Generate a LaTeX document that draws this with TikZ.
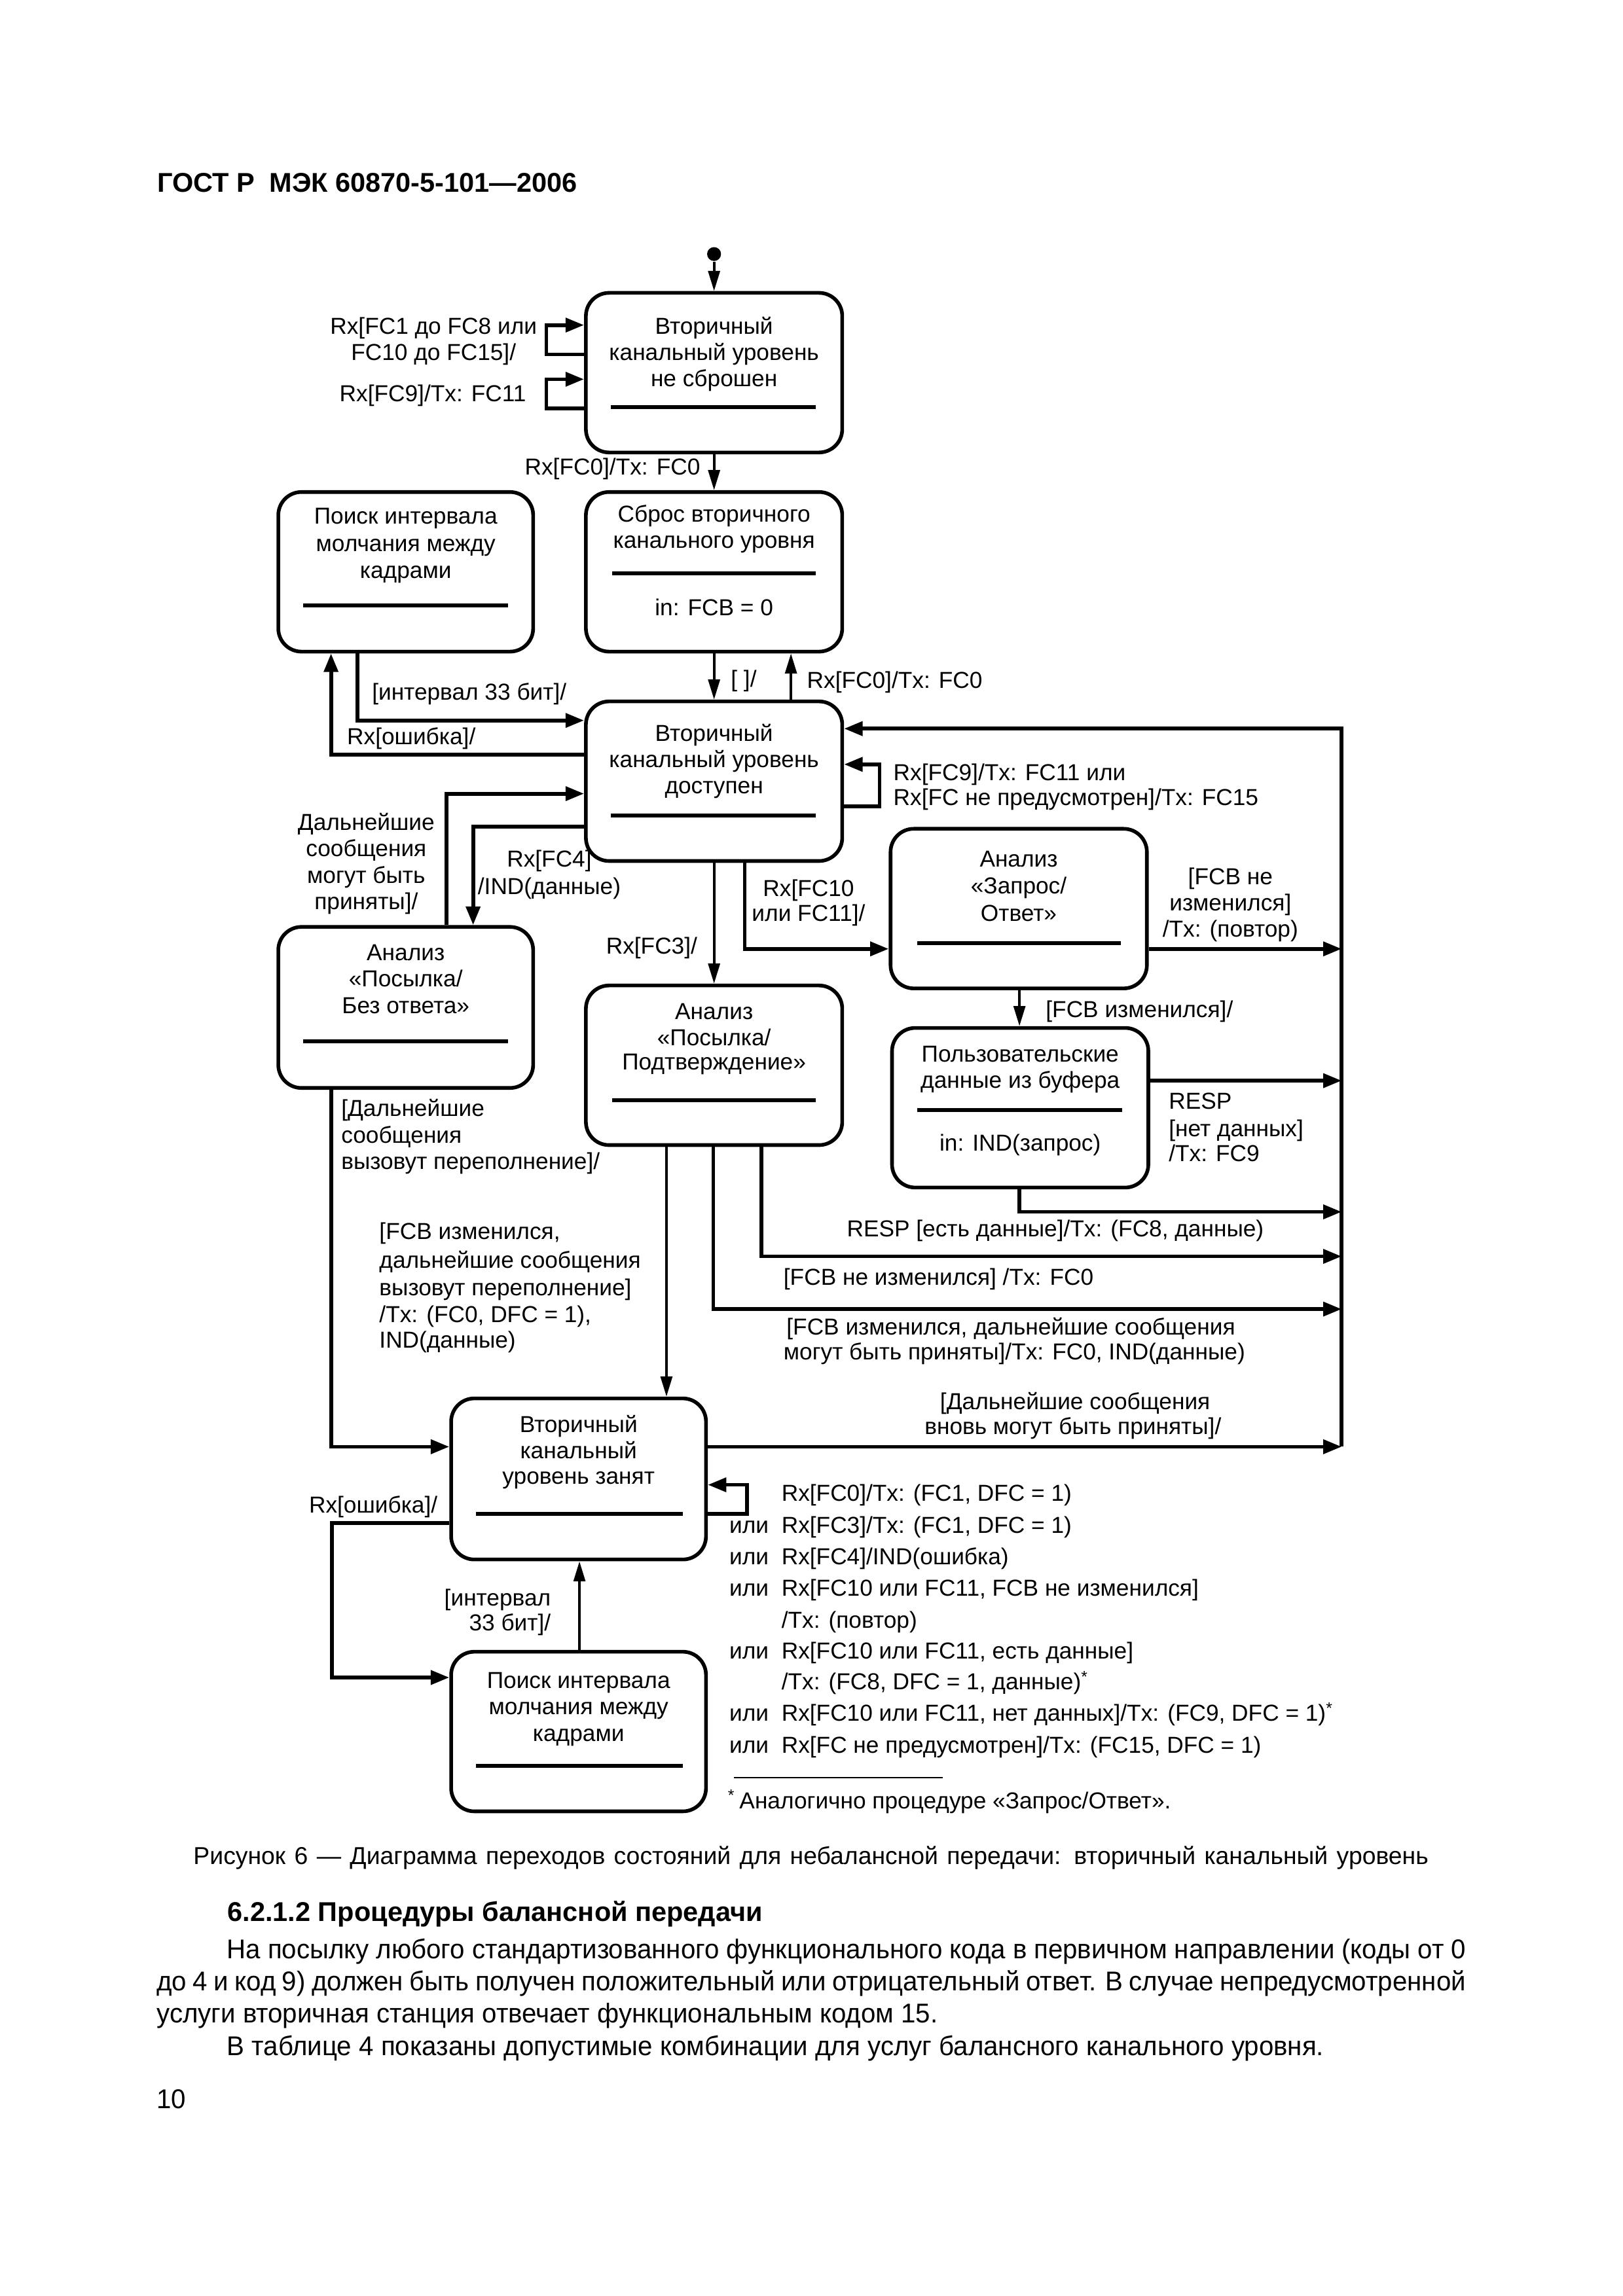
\documentclass[tikz,border=0pt]{standalone}
\usepackage{fontspec}
\setmainfont{Liberation Sans}
\newfontfamily\bodyfont{Liberation Sans}[FakeStretch=0.97]
\usetikzlibrary{arrows.meta,fit}
\newcounter{tln}
\newcommand{\tline}[4][base]{\stepcounter{tln}\node[txt,anchor=#1] (t\arabic{tln}) at (#2,#3) {#4};}
\newcommand{\mkstate}[5]{\coordinate (#1-a) at (#2,#3); \coordinate (#1-b) at (#4,#5); \node[stbox, fit=(#1-a)(#1-b)] (#1) {};}
\newcommand{\sepl}[3]{\draw[sepline] (#1,#3) -- (#2,#3);}
\tikzset{
  stbox/.style={draw, line width=1.35pt, rounded corners=3mm, inner sep=0pt},
  sepline/.style={line width=1.5pt},
  conn/.style={line width=1.4pt, -{Triangle[length=2.4mm,width=1.8mm]}},
  vconn/.style={line width=0.9pt, -{Triangle[length=2.6mm,width=1.5mm]}},
  txt/.style={font=\fontsize{8.5}{10}\selectfont, inner sep=0pt, outer sep=0pt},
  bodytxt/.style={font=\bodyfont\fontsize{10}{12}\selectfont, inner sep=0pt, outer sep=0pt},
}
\begin{document}
\begin{tikzpicture}[x=0.18953mm,y=-0.18953mm]
\useasboundingbox (0,0) rectangle (1108,1568);
% header
\node[inner sep=0pt, anchor=base west, font=\fontsize{10}{12}\selectfont\bfseries] (hdr) at (107,131) {ГОСТ\ Р\hspace{0.55em}МЭК 60870-5-101—2006};
% states
\mkstate{b1}{400}{200}{575}{309}
\mkstate{b2}{400}{336}{575}{445}
\mkstate{b3}{190}{336}{364}{445}
\mkstate{b4}{400}{479}{575}{588}
\mkstate{b5}{608}{566}{783}{675}
\mkstate{b6}{190}{633}{364}{743}
\mkstate{b7}{400}{673}{575}{782}
\mkstate{b8}{609}{702}{784}{811}
\mkstate{b9}{308}{955}{482}{1065}
\mkstate{b10}{308}{1128}{482}{1237}
% separators
\sepl{417}{557}{278}
\sepl{418}{557}{391.5}
\sepl{207}{347}{413.5}
\sepl{417}{557}{557}
\sepl{626}{765}{644}
\sepl{207}{347}{711}
\sepl{418}{557}{751.5}
\sepl{626}{766}{758}
\sepl{325}{466}{1034}
\sepl{325}{466}{1206}
% state texts
\tline{487.5}{228}{Вторичный}
\tline{487.5}{246}{канальный уровень}
\tline{487.5}{264}{не сброшен}
\tline{487.5}{356.5}{Сброс вторичного}
\tline{487.5}{374.5}{канального уровня}
\tline{487.5}{420.5}{in: FCB = 0}
\tline{277}{358}{Поиск интервала}
\tline{277}{376.5}{молчания между}
\tline{277}{395}{кадрами}
\tline{487.5}{506}{Вторичный}
\tline{487.5}{524}{канальный уровень}
\tline{487.5}{542}{доступен}
\tline{695.5}{592}{Анализ}
\tline{695.5}{610.5}{«Запрос/}
\tline{695.5}{629}{Ответ»}
\tline{277}{656}{Анализ}
\tline{277}{674}{«Посылка/}
\tline{277}{692}{Без ответа»}
\tline{487.5}{696}{Анализ}
\tline{487.5}{714}{«Посылка/}
\tline{487.5}{730.5}{Подтверждение»}
\tline{696.5}{725}{Пользовательские}
\tline{696.5}{743}{данные из буфера}
\tline{696.5}{786}{in: IND(запрос)}
\tline{395}{978}{Вторичный}
\tline{395}{996}{канальный}
\tline{395}{1013.5}{уровень занят}
\tline{395}{1153}{Поиск интервала}
\tline{395}{1171}{молчания между}
\tline{395}{1189}{кадрами}
% initial state
\node[circle, fill, inner sep=0pt, minimum size=1.8mm] (init) at (487.5,173.5) {};
\draw[vconn] (init) -- (b1);
% B1 self loops
\coordinate (k1) at (373,242); \coordinate (k1t) at (373,222);
\coordinate (k2) at (373,279); \coordinate (k2t) at (373,259);
\draw[conn] (b1.west |- k1) -- (k1) -- (k1t) -- (b1.west |- k1t);
\draw[conn] (b1.west |- k2) -- (k2) -- (k2t) -- (b1.west |- k2t);
\tline{296}{228}{Rx[FC1 до FC8 или}
\tline{296}{246}{FC10 до FC15]/}
\tline{295.5}{274}{Rx[FC9]/Tx: FC11}
% B1 -> B2
\draw[vconn] (b1) -- (b2);
\tline[base east]{478}{324.5}{Rx[FC0]/Tx: FC0}
% B2 <-> B4
\draw[vconn] (b2) -- (b4);
\tline[base west]{499}{469}{[ ]/}
\coordinate (xup) at (540,0);
\draw[vconn] (b4.north -| xup) -- (b2.south -| xup);
\tline[base west]{551}{470}{Rx[FC0]/Tx: FC0}
% B3 <-> B4
\coordinate (c3) at (244,492);
\draw[conn] (b3.south -| c3) |- (b4.west |- c3);
\tline[base west]{254}{478}{[интервал 33 бит]/}
\coordinate (c4) at (226,515.4);
\draw[conn] (b4.west |- c4) -| (b3.south -| c4);
\tline[base west]{237}{508.5}{Rx[ошибка]/}
% B4 self loop
\coordinate (k4) at (600.5,550.5); \coordinate (k4t) at (600.5,522);
\draw[conn] (b4.east |- k4) -- (k4) -- (k4t) -- (b4.east |- k4t);
\tline[base west]{610}{533}{Rx[FC9]/Tx: FC11 или}
\tline[base west]{610}{550}{Rx[FC не предусмотрен]/Tx: FC15}
% B6 <-> B4
\coordinate (c6) at (305,542);
\draw[conn] (b6.north -| c6) |- (b4.west |- c6);
\tline{250}{567}{Дальнейшие}
\tline{250}{585}{сообщения}
\tline{250}{603}{могут быть}
\tline{250}{621}{приняты]/}
\coordinate (c7) at (323,564.6);
\draw[conn] (b4.west |- c7) -| (b6.north -| c7);
\tline{375}{592}{Rx[FC4]}
\tline{375}{611}{/IND(данные)}
% B4 -> B7
\draw[vconn] (b4) -- (b7);
\tline[base east]{476}{651.5}{Rx[FC3]/}
% B4 -> B5
\coordinate (c8) at (508.4,648);
\draw[conn] (b4.south -| c8) |- (b5.west |- c8);
\tline{552}{612}{Rx[FC10}
\tline{552}{629}{или FC11]/}
% bus
\coordinate (bus) at (916,0);
\coordinate (bt) at (916,497.6);
\coordinate (bb) at (916,988);
\draw[conn] (bb) -- (bt) -- (b4.east |- bt);
% B5 -> bus
\draw[conn] (b5.east |- c8) -- (c8 -| bus);
\tline{840}{604}{[FCB не}
\tline{840}{622}{изменился]}
\tline{840}{640}{/Tx: (повтор)}
% B5 -> B8
\coordinate (x58) at (696,0);
\draw[vconn] (b5.south -| x58) -- (b8.north -| x58);
\tline[base west]{714}{695}{[FCB изменился]/}
% B8 -> bus
\coordinate (r8) at (916,738);
\draw[conn] (b8.east |- r8) -- (r8);
\tline[base west]{798}{757.5}{RESP}
\tline[base west]{798}{776}{[нет данных]}
\tline[base west]{798}{793}{/Tx: FC9}
\coordinate (c9) at (696,827.6);
\draw[conn] (b8.south -| c9) |- (c9 -| bus);
\tline{720.5}{844.5}{RESP [есть данные]/Tx: (FC8, данные)}
% B7 -> bus
\coordinate (c10) at (520,858);
\draw[conn] (b7.south -| c10) |- (c10 -| bus);
\tline[base west]{535}{877.5}{[FCB не изменился] /Tx: FC0}
\coordinate (c11) at (487,894);
\draw[conn] (b7.south -| c11) |- (c11 -| bus);
\tline[base west]{537}{911.5}{[FCB изменился, дальнейшие сообщения}
\tline[base west]{535}{928.5}{могут быть приняты]/Tx: FC0, IND(данные)}
% B7 -> B9
\coordinate (x79) at (455,0);
\draw[vconn] (b7.south -| x79) -- (b9.north -| x79);
\tline[base west]{259}{846.5}{[FCB изменился,}
\tline[base west]{259}{866}{дальнейшие сообщения}
\tline[base west]{259}{885}{вызовут переполнение]}
\tline[base west]{259}{903}{/Tx: (FC0, DFC = 1),}
\tline[base west]{259}{920.5}{IND(данные)}
% B6 -> B9
\coordinate (c12) at (226,988);
\draw[conn] (b6.south -| c12) |- (b9.west |- c12);
\tline[base west]{233}{762.5}{[Дальнейшие}
\tline[base west]{233}{780.5}{сообщения}
\tline[base west]{233}{798.5}{вызовут переполнение]/}
% B9 -> bus
\draw[conn] (b9.east |- bb) -- (bb);
\tline{734}{962.5}{[Дальнейшие сообщения}
\tline{732.5}{979.5}{вновь могут быть приняты]/}
% B9 self loop
\coordinate (k9) at (510,1034); \coordinate (k9t) at (510,1014);
\draw[conn] (b9.east |- k9) -- (k9) -- (k9t) -- (b9.east |- k9t);
\tline[base west]{533.6}{1025}{Rx[FC0]/Tx: (FC1, DFC = 1)}
\tline[base west]{498}{1047}{или}
\tline[base west]{533.6}{1047}{Rx[FC3]/Tx: (FC1, DFC = 1)}
\tline[base west]{498}{1068.5}{или}
\tline[base west]{533.6}{1068.5}{Rx[FC4]/IND(ошибка)}
\tline[base west]{498}{1090}{или}
\tline[base west]{533.6}{1090}{Rx[FC10 или FC11, FCB не изменился]}
\tline[base west]{533.6}{1112}{/Tx: (повтор)}
\tline[base west]{498}{1133}{или}
\tline[base west]{533.6}{1133}{Rx[FC10 или FC11, есть данные]}
\tline[base west]{533.6}{1154}{/Tx: (FC8, DFC = 1, данные)\textsuperscript{*}}
\tline[base west]{498}{1175.5}{или}
\tline[base west]{533.6}{1175.5}{Rx[FC10 или FC11, нет данных]/Tx: (FC9, DFC = 1)\textsuperscript{*}}
\tline[base west]{498}{1197}{или}
\tline[base west]{533.6}{1197}{Rx[FC не предусмотрен]/Tx: (FC15, DFC = 1)}
% footnote
\coordinate (fr1) at (501,1214); \coordinate (fr2) at (643.6,1214);
\draw[line width=0.6pt] (fr1) -- (fr2);
\tline[base west]{497}{1235}{\textsuperscript{*}\,Аналогично процедуре «Запрос/Ответ».}
% B9 -> B10
\coordinate (c13) at (226.5,1040); \coordinate (c14) at (226.5,1145.6);
\draw[conn] (b9.west |- c13) -- (c13) -- (c14) -- (b10.west |- c14);
\tline[base west]{211}{1033}{Rx[ошибка]/}
% B10 -> B9
\coordinate (x109) at (395.6,0);
\draw[vconn] (b10.north -| x109) -- (b9.south -| x109);
\tline[base east]{376}{1096.5}{[интервал}
\tline[base east]{376}{1113.5}{33 бит]/}
% caption and body text
\node[inner sep=0pt, font=\fontsize{9}{11}\selectfont, anchor=base west] (cap) at (131.7,1273) {\makebox[159.8mm][s]{Рисунок 6 — Диаграмма переходов состояний для небалансной передачи: вторичный канальный уровень}};
\node[inner sep=0pt, font=\fontsize{10}{12}\selectfont\bfseries, anchor=base west] (hd) at (155,1312) {6.2.1.2 Процедуры балансной передачи};
\node[bodytxt, anchor=base west] (p1) at (155,1337.5) {\makebox[160.3mm][s]{На посылку любого стандартизованного функционального кода в первичном направлении (коды от 0}};
\node[bodytxt, anchor=base west] (p2) at (107,1359.5) {\makebox[169.4mm][s]{до 4 и код 9) должен быть получен положительный или отрицательный ответ. В случае непредусмотренной}};
\node[bodytxt, anchor=base west] (p3) at (107,1381.5) {услуги вторичная станция отвечает функциональным кодом 15.};
\node[bodytxt, anchor=base west] (p4) at (155,1403.5) {В таблице 4 показаны допустимые комбинации для услуг балансного канального уровня.};
\node[bodytxt, anchor=base west] (pg) at (107,1440) {10};
\end{tikzpicture}
\end{document}
